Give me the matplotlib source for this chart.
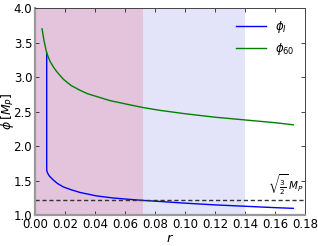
import matplotlib
matplotlib.use("Agg")
import matplotlib.pyplot as plt
import numpy as np

# values
r_60 = [0.0047, 0.0060, 0.0078, 0.010, 0.0125, 0.0145, 0.0189, 0.024, 0.030, 0.035, 0.041, 0.050, 0.063, 0.072, 0.083, 0.10, 0.12, 0.14, 0.16, 0.172]
phi_60 = [3.70, 3.53, 3.35, 3.23, 3.14, 3.08, 2.97, 2.88, 2.81, 2.76, 2.72, 2.66, 2.60, 2.56, 2.52, 2.47, 2.42, 2.38, 2.34, 2.31]

r_I = [0.0078, 0.0078, 0.0082, 0.0095, 0.0122, 0.015, 0.0189, 0.024, 0.030, 0.041, 0.052, 0.063, 0.072, 0.083, 0.10, 0.12, 0.14, 0.16, 0.172]
phi_I = [3.35, 1.66, 1.62, 1.57, 1.51, 1.46, 1.41, 1.37, 1.33, 1.28, 1.25, 1.23, 1.215, 1.20, 1.175, 1.15, 1.13, 1.11, 1.10]

phi_min = np.sqrt(1.5)
region1 = (0.0, 0.072)
region2 = (0.072, 0.14)

plt.rcParams['font.size'] = 8.5
plt.rcParams['xtick.direction'] = 'in'
plt.rcParams['ytick.direction'] = 'in'
plt.rcParams['xtick.top'] = True
plt.rcParams['ytick.right'] = True

fig, ax = plt.subplots(figsize=(3.18, 2.46), dpi=100)
fig.subplots_adjust(left=0.11, right=0.96, bottom=0.125, top=0.967)

ax.axvspan(region1[0], region1[1], color='#e4c3dc', lw=0)
ax.axvspan(region2[0], region2[1], color='#e3e3fa', lw=0)

ax.plot(r_I, phi_I, color='#0000ff', lw=1, label=r'$\phi_I$')
ax.plot(r_60, phi_60, color='#008000', lw=1, label=r'$\phi_{60}$')
ax.axhline(phi_min, color='#333333', ls='--', lw=1, dashes=(3, 2))
ax.text(0.179, phi_min + 0.04, r'$\sqrt{\frac{3}{2}}\,M_P$', ha='right', va='bottom', fontsize=7.5)

ax.set_xlim(0, 0.18)
ax.set_ylim(1.0, 4.0)
ax.set_xticks(np.arange(0, 0.181, 0.02))
ax.set_yticks(np.arange(1.0, 4.01, 0.5))
ax.tick_params(length=3, width=0.5, pad=2)
for side in ['top', 'right']:
    ax.spines[side].set_linewidth(0.7)
    ax.spines[side].set_color('#444444')
for side in ['left', 'bottom']:
    ax.spines[side].set_linewidth(1.6)
    ax.spines[side].set_color('#999999')

ax.set_xlabel(r'$r$', labelpad=1, fontsize=9.5)
ax.set_ylabel(r'$\phi\,[M_P]$', fontsize=9)
ax.yaxis.set_label_coords(-0.072, 0.5)
ax.legend(loc='upper right', frameon=False, fontsize=8.5, handlelength=2.5)

fig.savefig('out.png', dpi=100)
